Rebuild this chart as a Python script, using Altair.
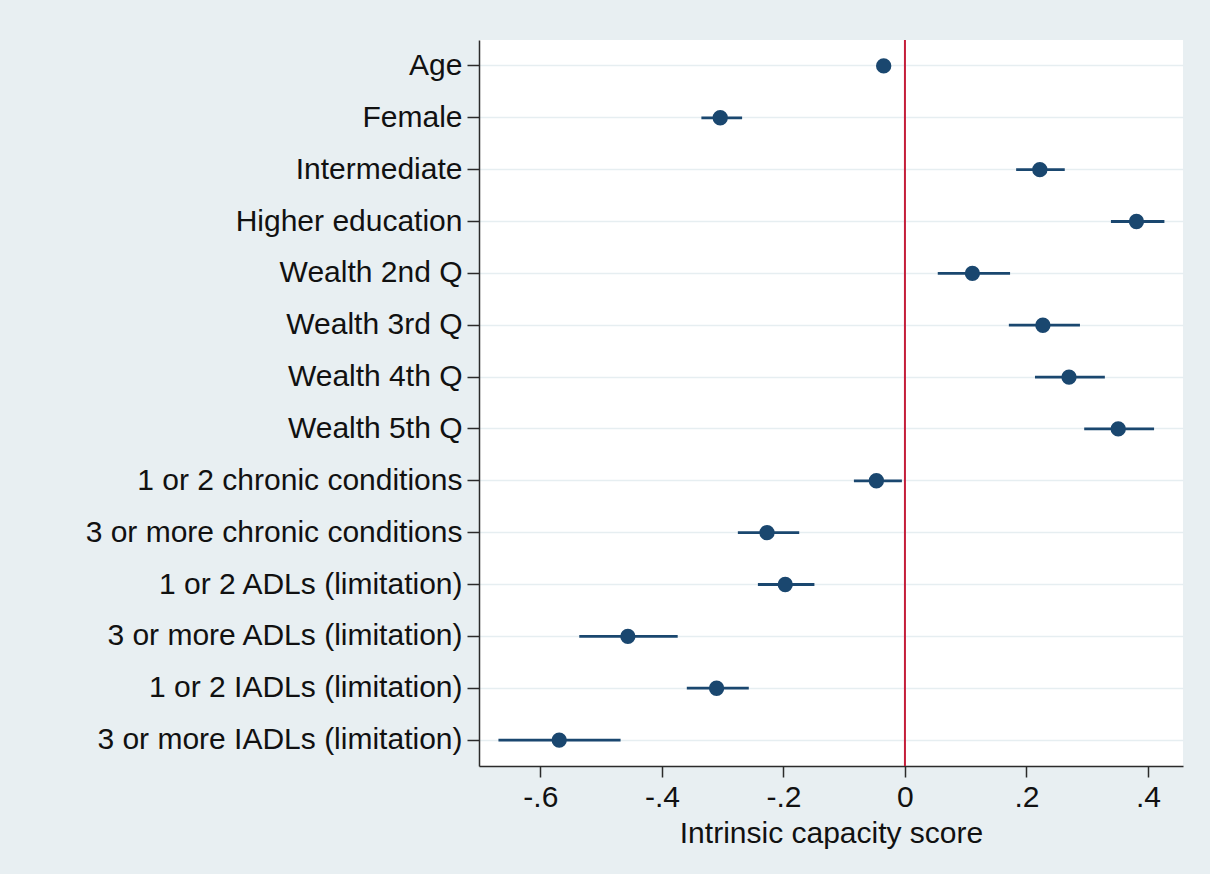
import altair as alt
import pandas as pd

labels = [
    "Age", "Female", "Intermediate", "Higher education",
    "Wealth 2nd Q", "Wealth 3rd Q", "Wealth 4th Q", "Wealth 5th Q",
    "1 or 2 chronic conditions", "3 or more chronic conditions",
    "1 or 2 ADLs (limitation)", "3 or more ADLs (limitation)",
    "1 or 2 IADLs (limitation)", "3 or more IADLs (limitation)",
]
coef = [-0.035, -0.304, 0.222, 0.381, 0.111, 0.227, 0.270, 0.351,
        -0.047, -0.227, -0.197, -0.456, -0.310, -0.569]
ci_low = [-0.041, -0.335, 0.183, 0.339, 0.054, 0.171, 0.214, 0.295,
          -0.084, -0.275, -0.242, -0.536, -0.359, -0.669]
ci_high = [-0.029, -0.268, 0.263, 0.427, 0.173, 0.288, 0.329, 0.410,
           -0.005, -0.174, -0.149, -0.374, -0.257, -0.468]
x_ticks = [-0.6, -0.4, -0.2, 0, 0.2, 0.4]
ref_line = [0]

NAVY = "#1A476F"
RED = "#C41E3A"
BG = "#E8EFF2"
FONT = "Liberation Sans"

df = pd.DataFrame({"label": labels, "coef": coef, "lo": ci_low, "hi": ci_high})
ref_df = pd.DataFrame({"x": ref_line})

xscale = alt.Scale(domain=[-0.701, 0.4576], nice=False, zero=False)
ysort = labels

x_axis = alt.Axis(
    values=x_ticks,
    labelExpr="datum.value == 0 ? '0' : (datum.value < 0 ? '-' : '') + slice(format(abs(datum.value), '.1f'), 1)",
    title="Intrinsic capacity score",
    grid=False,
    tickSize=11,
    labelPadding=5,
    titlePadding=6,
)
y_axis = alt.Axis(
    title=None,
    grid=True,
    tickSize=12,
    labelPadding=5,
    labelLimit=600,
)

ref = alt.Chart(ref_df).mark_rule(color=RED, strokeWidth=2).encode(
    x=alt.X("x:Q", scale=xscale, axis=x_axis)
)

ci = alt.Chart(df).mark_rule(color=NAVY, strokeWidth=2.8).encode(
    x=alt.X("lo:Q", scale=xscale, axis=x_axis),
    x2="hi:Q",
    y=alt.Y("label:N", sort=ysort, axis=y_axis),
)

pts = alt.Chart(df).mark_circle(color=NAVY, opacity=1, size=235).encode(
    x=alt.X("coef:Q", scale=xscale, axis=x_axis),
    y=alt.Y("label:N", sort=ysort, axis=y_axis),
)

chart = (
    alt.layer(ref, ci, pts)
    .properties(
        width=704,
        height=726,
        autosize=alt.AutoSizeParams(type="none"),
        padding={"left": 479, "top": 40, "right": 27, "bottom": 108},
        background=BG,
    )
    .configure_view(fill="white", stroke=None)
    .configure_axis(
        domainColor="#2b2b2b",
        domainWidth=1.5,
        tickColor="#2b2b2b",
        tickWidth=1.5,
        labelFont=FONT,
        labelFontSize=30,
        labelColor="#111111",
        titleFont=FONT,
        titleFontSize=30,
        titleFontWeight="normal",
        titleColor="#111111",
        gridColor="#E6EEF1",
        gridWidth=1.5,
    )
)

chart.save("out.html", embed_options={"renderer": "svg", "actions": False})
